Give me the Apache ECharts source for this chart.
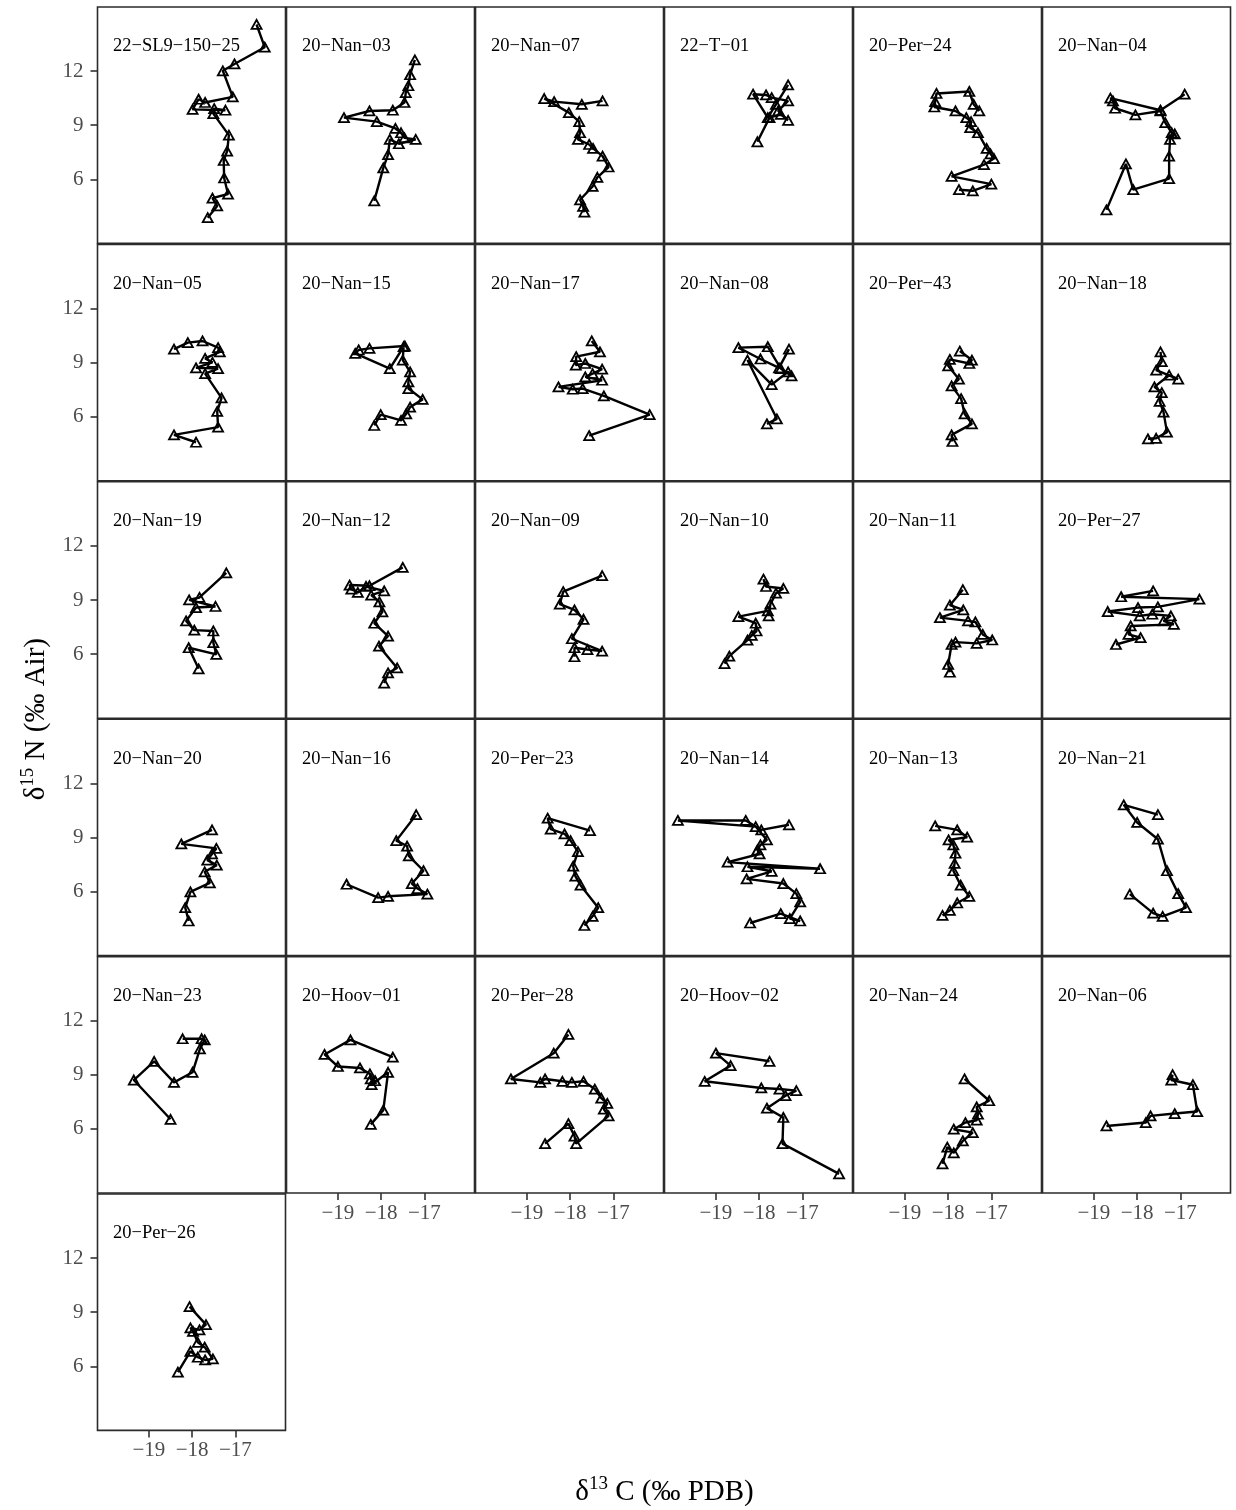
<!DOCTYPE html>
<html><head><meta charset="utf-8">
<script src="https://cdn.jsdelivr.net/npm/echarts@6/dist/echarts.min.js"></script>
<style>html,body{margin:0;padding:0;background:#fff}#c{width:1236px;height:1510px}</style>
</head><body><div id="c"></div>
<script>
// axis ranges and ticks
const xRange = [-20.19, -15.84];
const yRange = [2.44, 15.56];
const xTicks = [-19, -18, -17];
const yTicks = [6, 9, 12];

// per-sample [d13C, d15N] sequences
const S_22_SL9_150_25 = [[-16.51,14.59],[-16.32,13.33],[-17.02,12.40],[-17.29,12.02],[-17.06,10.57],[-17.70,10.26],[-17.85,10.44],[-17.99,9.88],[-17.23,9.83],[-17.49,9.92],[-17.51,9.64],[-17.15,8.45],[-17.19,7.56],[-17.27,7.04],[-17.26,6.07],[-17.17,5.18],[-17.53,4.95],[-17.42,4.52],[-17.64,3.87]];
const S_20_Nan_03 = [[-17.22,12.62],[-17.33,11.80],[-17.37,11.19],[-17.43,10.81],[-17.46,10.26],[-17.73,9.83],[-18.27,9.79],[-18.86,9.42],[-18.10,9.20],[-17.67,8.82],[-17.54,8.58],[-17.46,8.30],[-17.20,8.21],[-17.59,7.97],[-17.80,8.21],[-17.84,7.37],[-17.95,6.63],[-18.16,4.80]];
const S_20_Nan_07 = [[-17.25,10.35],[-17.73,10.16],[-18.37,10.31],[-18.60,10.48],[-18.03,9.70],[-17.79,9.20],[-17.77,8.58],[-17.82,8.21],[-17.56,7.93],[-17.47,7.71],[-17.25,7.28],[-17.11,6.68],[-17.37,6.11],[-17.48,5.60],[-17.77,4.86],[-17.70,4.49],[-17.67,4.17]];
const S_22_T_01 = [[-17.33,11.24],[-17.61,10.16],[-17.80,9.42],[-18.14,10.72],[-17.84,10.68],[-17.71,10.53],[-17.33,10.35],[-17.56,9.79],[-17.33,9.27],[-17.50,9.60],[-17.76,9.42],[-18.04,8.08]];
const S_20_Per_24 = [[-17.28,9.79],[-17.41,10.16],[-17.51,10.87],[-18.27,10.76],[-18.30,10.31],[-18.32,10.01],[-17.83,9.79],[-17.58,9.42],[-17.47,9.20],[-17.49,8.86],[-17.31,8.58],[-17.11,7.71],[-17.02,7.41],[-16.94,7.15],[-17.17,6.81],[-17.92,6.16],[-17.00,5.73],[-17.43,5.36],[-17.75,5.42]];
const S_20_Nan_04 = [[-16.90,10.72],[-17.46,9.83],[-18.62,10.50],[-18.56,10.35],[-18.51,9.94],[-18.04,9.57],[-17.46,9.79],[-17.35,9.14],[-17.20,8.58],[-17.13,8.52],[-17.24,8.21],[-17.26,7.28],[-17.26,6.03],[-18.09,5.42],[-18.26,6.85],[-18.71,4.30]];
const S_20_Nan_05 = [[-18.42,9.75],[-18.10,10.11],[-17.76,10.20],[-17.40,9.83],[-17.36,9.60],[-17.70,9.23],[-17.53,9.01],[-17.91,8.71],[-17.40,8.67],[-17.70,8.39],[-17.32,7.04],[-17.42,6.29],[-17.40,5.42],[-18.42,4.99],[-17.91,4.58]];
const S_20_Nan_15 = [[-18.16,5.51],[-18.01,6.11],[-17.54,5.79],[-17.42,6.16],[-17.33,6.53],[-17.04,6.96],[-17.37,7.56],[-17.37,7.93],[-17.33,8.49],[-17.50,9.14],[-17.48,9.88],[-17.80,8.67],[-18.60,9.51],[-18.52,9.70],[-18.27,9.79],[-17.45,9.92]];
const S_20_Nan_17 = [[-17.50,10.20],[-17.31,9.60],[-17.86,9.33],[-17.87,8.86],[-17.65,8.95],[-17.26,8.64],[-17.48,8.39],[-17.65,8.21],[-17.26,8.02],[-18.27,7.65],[-17.94,7.52],[-17.71,7.56],[-17.22,7.15],[-16.16,6.11],[-17.56,4.95]];
const S_20_Nan_08 = [[-17.31,9.75],[-17.54,8.71],[-17.97,9.20],[-18.48,9.83],[-17.80,9.88],[-17.50,8.67],[-17.25,8.26],[-17.33,8.49],[-17.71,7.78],[-18.27,9.14],[-17.59,5.88],[-17.82,5.60]];
const S_20_Per_43 = [[-17.73,9.64],[-17.45,9.14],[-17.51,8.95],[-17.96,9.18],[-18.00,8.82],[-17.75,8.08],[-17.92,7.71],[-17.70,7.00],[-17.62,6.16],[-17.45,5.60],[-17.92,4.99],[-17.90,4.62]];
const S_20_Nan_18 = [[-17.46,9.60],[-17.43,9.05],[-17.56,8.58],[-17.05,8.08],[-17.26,8.30],[-17.60,7.65],[-17.43,7.33],[-17.48,6.85],[-17.39,6.25],[-17.31,5.14],[-17.56,4.80],[-17.75,4.77]];
const S_20_Nan_19 = [[-17.21,10.50],[-17.83,9.14],[-18.07,9.01],[-17.46,8.64],[-17.91,8.58],[-18.14,7.84],[-17.95,7.33],[-17.51,7.28],[-17.51,6.63],[-17.44,5.98],[-18.08,6.35],[-17.85,5.18]];
const S_20_Nan_12 = [[-17.50,10.81],[-18.27,9.79],[-18.73,9.83],[-18.69,9.60],[-18.54,9.42],[-18.35,9.75],[-17.93,9.51],[-18.23,9.27],[-18.04,8.90],[-17.97,8.34],[-18.16,7.71],[-17.84,7.00],[-18.05,6.44],[-17.63,5.23],[-17.84,4.95],[-17.93,4.39]];
const S_20_Nan_09 = [[-17.26,10.35],[-18.16,9.46],[-18.24,8.77],[-17.90,8.45],[-17.69,7.93],[-17.96,6.85],[-17.26,6.16],[-17.60,6.25],[-17.90,6.35],[-17.90,5.85]];
const S_20_Nan_10 = [[-17.90,10.16],[-17.84,9.75],[-17.44,9.64],[-17.61,9.38],[-17.74,8.77],[-17.78,8.12],[-17.80,8.40],[-18.48,8.08],[-18.08,7.71],[-18.06,7.28],[-18.17,7.04],[-18.27,6.77],[-18.69,5.88],[-18.80,5.47]];
const S_20_Nan_11 = [[-17.66,9.57],[-17.96,8.71],[-17.65,8.45],[-18.19,8.02],[-17.54,7.84],[-17.37,7.78],[-17.20,7.09],[-16.98,6.78],[-17.34,6.59],[-17.83,6.66],[-17.92,6.53],[-18.00,5.42],[-17.96,4.99]];
const S_20_Per_27 = [[-17.63,9.51],[-18.37,9.18],[-16.56,9.05],[-17.52,8.62],[-17.98,8.58],[-18.68,8.36],[-17.94,8.12],[-17.65,8.21],[-17.22,8.12],[-17.39,7.84],[-17.15,7.65],[-18.15,7.56],[-18.20,7.09],[-17.92,6.91],[-18.49,6.53]];
const S_20_Nan_20 = [[-17.54,9.42],[-18.25,8.64],[-17.44,8.39],[-17.54,8.08],[-17.65,7.74],[-17.43,7.46],[-17.71,7.09],[-17.59,6.48],[-18.04,5.98],[-18.16,5.10],[-18.08,4.36]];
const S_20_Nan_16 = [[-17.19,10.26],[-17.65,8.82],[-17.40,8.52],[-17.36,7.97],[-17.02,7.15],[-17.29,6.44],[-17.16,6.16],[-16.93,5.85],[-17.84,5.73],[-18.07,5.66],[-18.80,6.40]];
const S_20_Per_23 = [[-17.54,9.38],[-18.52,10.07],[-18.45,9.46],[-18.13,9.20],[-17.99,8.82],[-17.82,8.21],[-17.93,7.41],[-17.88,6.85],[-17.76,6.35],[-17.35,5.10],[-17.48,4.62],[-17.67,4.11]];
const S_20_Nan_14 = [[-17.31,9.70],[-17.95,9.42],[-18.31,9.94],[-19.88,9.94],[-18.08,9.60],[-17.82,8.86],[-17.97,8.58],[-18.04,8.30],[-17.99,8.08],[-18.73,7.63],[-16.59,7.26],[-18.27,7.37],[-17.71,7.12],[-18.29,6.70],[-17.44,6.44],[-17.14,5.88],[-17.05,5.42],[-17.29,4.49],[-17.05,4.36],[-17.50,4.77],[-18.21,4.25]];
const S_20_Nan_13 = [[-18.30,9.64],[-17.79,9.42],[-17.56,9.01],[-17.99,8.86],[-17.88,8.58],[-17.83,8.12],[-17.85,7.56],[-17.88,7.15],[-17.71,6.35],[-17.51,5.73],[-17.79,5.36],[-17.96,4.95],[-18.13,4.67]];
const S_20_Nan_21 = [[-17.52,10.26],[-18.31,10.81],[-18.00,9.83],[-17.52,8.90],[-17.31,7.15],[-17.05,5.88],[-16.87,5.10],[-17.41,4.62],[-17.63,4.80],[-18.17,5.85]];
const S_20_Nan_23 = [[-18.22,11.00],[-17.78,11.00],[-17.71,10.94],[-17.82,10.44],[-17.99,9.14],[-18.42,8.58],[-18.88,9.75],[-19.35,8.71],[-18.50,6.53]];
const S_20_Hoov_01 = [[-17.73,9.98],[-18.71,10.94],[-19.31,10.13],[-19.00,9.46],[-18.49,9.38],[-18.26,9.05],[-18.24,8.77],[-18.14,8.67],[-18.22,8.45],[-17.84,9.14],[-17.95,7.04],[-18.24,6.25]];
const S_20_Per_28 = [[-18.04,11.24],[-18.38,10.20],[-19.37,8.77],[-18.69,8.58],[-18.58,8.77],[-18.18,8.64],[-17.96,8.58],[-17.69,8.64],[-17.43,8.21],[-17.28,7.71],[-17.14,7.41],[-17.22,7.09],[-17.11,6.72],[-17.86,5.18],[-17.90,5.60],[-18.04,6.29],[-18.58,5.18]];
const S_20_Hoov_02 = [[-17.76,9.75],[-19.00,10.20],[-18.66,9.51],[-19.26,8.64],[-17.95,8.27],[-17.53,8.21],[-17.14,8.12],[-17.39,7.84],[-17.82,7.15],[-17.44,6.63],[-17.46,5.18],[-16.15,3.50]];
const S_20_Nan_24 = [[-17.62,8.77],[-17.05,7.56],[-17.34,7.22],[-17.31,6.81],[-17.34,6.48],[-17.60,6.35],[-17.87,5.98],[-17.43,5.79],[-17.66,5.33],[-17.87,4.67],[-18.02,4.99],[-18.13,4.06]];
const S_20_Nan_06 = [[-17.18,9.01],[-17.21,8.71],[-16.71,8.45],[-16.61,6.96],[-17.13,6.85],[-17.69,6.72],[-17.80,6.35],[-18.71,6.16]];
const S_20_Per_26 = [[-18.06,9.31],[-17.68,8.31],[-17.83,8.02],[-18.04,8.13],[-17.98,7.94],[-17.87,7.33],[-17.71,7.06],[-17.52,6.41],[-17.70,6.35],[-17.87,6.50],[-18.04,6.83],[-18.33,5.67]];

const panelNames = ['22−SL9−150−25','20−Nan−03','20−Nan−07','22−T−01','20−Per−24','20−Nan−04',
  '20−Nan−05','20−Nan−15','20−Nan−17','20−Nan−08','20−Per−43','20−Nan−18',
  '20−Nan−19','20−Nan−12','20−Nan−09','20−Nan−10','20−Nan−11','20−Per−27',
  '20−Nan−20','20−Nan−16','20−Per−23','20−Nan−14','20−Nan−13','20−Nan−21',
  '20−Nan−23','20−Hoov−01','20−Per−28','20−Hoov−02','20−Nan−24','20−Nan−06',
  '20−Per−26'];
const panelData = [S_22_SL9_150_25,S_20_Nan_03,S_20_Nan_07,S_22_T_01,S_20_Per_24,S_20_Nan_04,
  S_20_Nan_05,S_20_Nan_15,S_20_Nan_17,S_20_Nan_08,S_20_Per_43,S_20_Nan_18,
  S_20_Nan_19,S_20_Nan_12,S_20_Nan_09,S_20_Nan_10,S_20_Nan_11,S_20_Per_27,
  S_20_Nan_20,S_20_Nan_16,S_20_Per_23,S_20_Nan_14,S_20_Nan_13,S_20_Nan_21,
  S_20_Nan_23,S_20_Hoov_01,S_20_Per_28,S_20_Hoov_02,S_20_Nan_24,S_20_Nan_06,
  S_20_Per_26];

const FONT = '"Liberation Serif","DejaVu Serif",serif';
const NCOL = 6, X0 = 97.5, Y0 = 7, CW = 189, RH = 237.4, PW = 188, PH = 236.4;
const n = panelNames.length;
const nRows = Math.ceil(n / NCOL);
const grids = [], xAxes = [], yAxes = [], series = [], graphics = [];
const minus = v => String(v).replace('-', '\u2212');

for (let i = 0; i < n; i++) {
  const r = Math.floor(i / NCOL), c = i % NCOL;
  const left = X0 + c * CW, top = Y0 + r * RH;
  const isLeft = c === 0;
  const isBottom = i + NCOL >= n;
  grids.push({left, top, width: PW, height: PH, show: true, borderColor: '#2b2b2b', borderWidth: 1.6, backgroundColor: '#fff', containLabel: false});
  xAxes.push({type: 'value', gridIndex: i, min: xRange[0], max: xRange[1],
    axisLine: {show: false}, splitLine: {show: false},
    axisTick: {show: isBottom, customValues: xTicks, length: 7, lineStyle: {color: '#333', width: 1.6}},
    axisLabel: {show: isBottom, customValues: xTicks, formatter: minus, color: '#4d4d4d', fontSize: 21, fontFamily: FONT, margin: 10}});
  yAxes.push({type: 'value', gridIndex: i, min: yRange[0], max: yRange[1],
    axisLine: {show: false}, splitLine: {show: false},
    axisTick: {show: isLeft, customValues: yTicks, length: 7, lineStyle: {color: '#333', width: 1.6}},
    axisLabel: {show: isLeft, customValues: yTicks, formatter: minus, color: '#4d4d4d', fontSize: 21, fontFamily: FONT, margin: 14}});
  series.push({type: 'line', xAxisIndex: i, yAxisIndex: i, data: panelData[i],
    symbol: 'triangle', symbolSize: [10, 9], showAllSymbol: true,
    lineStyle: {color: '#000', width: 2.4},
    itemStyle: {color: 'rgba(0,0,0,0)', borderColor: '#000', borderWidth: 1.8},
    animation: false, silent: true});
  graphics.push({type: 'text', left: left + 15.5, top: top + 30, z: 100,
    style: {text: panelNames[i], fontFamily: FONT, fontSize: 18.5, fill: '#000'}});
}

const titleRich = {
  a: {fontFamily: FONT, fontSize: 29, fill: '#000', lineHeight: 34},
  s: {fontFamily: FONT, fontSize: 19, fill: '#000', verticalAlign: 'top', lineHeight: 34, padding: [0, 0, 12, 0]}
};
graphics.push({type: 'text', x: 36, y: Y0 + (nRows * RH) / 2, rotation: Math.PI / 2, z: 100,
  style: {text: '{a|δ}{s|15}{a| N (‰ Air)}', align: 'center', verticalAlign: 'middle', rich: titleRich}});
graphics.push({type: 'text', x: X0 + (NCOL * CW) / 2, y: 1492, z: 100,
  style: {text: '{a|δ}{s|13}{a| C (‰ PDB)}', align: 'center', verticalAlign: 'middle', rich: titleRich}});

const chart = echarts.init(document.getElementById('c'), null, {renderer: 'canvas'});
chart.setOption({animation: false, backgroundColor: '#fff', grid: grids, xAxis: xAxes, yAxis: yAxes, series, graphic: graphics});
</script></body></html>
